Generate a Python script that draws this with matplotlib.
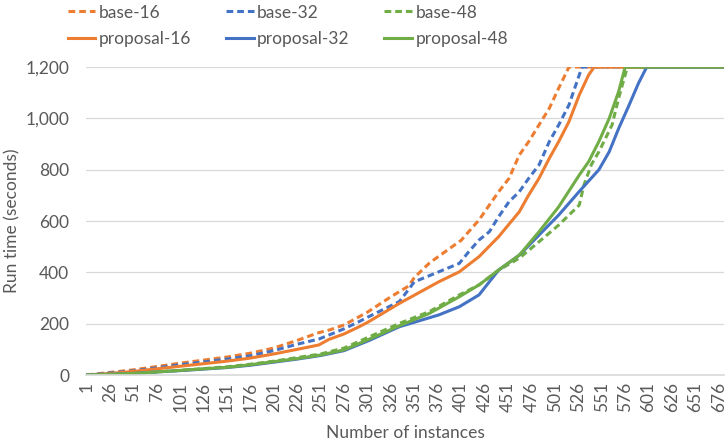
import numpy as np
import matplotlib.pyplot as plt
from matplotlib.ticker import FuncFormatter

plt.rcParams['font.family'] = ['Lato', 'DejaVu Sans']

n_inst = 681

# (instance, run time) pairs, sorted run times per config
base16_x = [1, 26, 51, 76, 101, 126, 151, 176, 201, 226, 249, 260, 276, 292, 301, 326, 345, 351, 367,
            376, 401, 420, 431, 441, 452, 463, 473, 484, 495, 505, 516, 681]
base16_y = [0, 10, 20, 33, 46, 58, 70, 85, 105, 135, 165, 175, 195, 227, 245, 305, 347, 380, 436,
            460, 525, 604, 662, 714, 766, 857, 909, 974, 1039, 1117, 1200, 1200]

base32_x = [1, 26, 51, 76, 101, 126, 151, 176, 201, 226, 249, 260, 276, 292, 301, 335, 351, 377, 399,
            409, 420, 431, 441, 452, 463, 473, 484, 495, 505, 516, 527, 530, 681]
base32_y = [0, 8, 16, 28, 40, 51, 62, 75, 95, 120, 140, 156, 180, 208, 225, 286, 363, 402, 435,
            480, 526, 558, 617, 675, 714, 766, 818, 909, 974, 1052, 1169, 1200, 1200]

base48_x = [1, 26, 51, 76, 101, 126, 151, 176, 201, 226, 251, 276, 303, 335, 367, 399, 420, 441,
            463, 484, 505, 527, 532, 540, 548, 562, 569, 577, 579, 681]
base48_y = [0, 3, 6, 12, 18, 25, 32, 42, 54, 68, 82, 105, 149, 201, 247, 312, 351, 409,
            455, 519, 584, 662, 740, 820, 870, 974, 1078, 1182, 1200, 1200]

prop16_x = [1, 26, 51, 76, 101, 126, 151, 176, 201, 226, 249, 260, 276, 292, 301, 335, 377, 399,
            420, 441, 463, 473, 484, 495, 505, 516, 527, 537, 543, 681]
prop16_y = [0, 6, 14, 24, 34, 44, 54, 66, 82, 100, 117, 139, 160, 188, 205, 279, 363, 402,
            461, 539, 636, 701, 766, 844, 909, 987, 1091, 1169, 1200, 1200]

prop32_x = [1, 26, 51, 76, 101, 126, 151, 176, 201, 226, 251, 276, 303, 335, 377, 399, 420, 431,
            441, 463, 484, 505, 527, 548, 559, 569, 580, 590, 599, 681]
prop32_y = [0, 3, 6, 12, 17, 23, 29, 38, 50, 62, 76, 95, 135, 188, 234, 266, 312, 363,
            409, 467, 545, 623, 715, 800, 870, 960, 1050, 1135, 1200, 1200]

prop48_x = [1, 26, 51, 76, 101, 126, 151, 176, 201, 226, 251, 276, 303, 335, 367, 399, 420, 441,
            463, 484, 505, 527, 537, 548, 559, 569, 576, 681]
prop48_y = [0, 3, 6, 12, 18, 24, 30, 40, 52, 64, 78, 98, 140, 192, 240, 305, 351, 409,
            467, 558, 655, 779, 831, 910, 1000, 1104, 1200, 1200]

orange = "#ED7D31"
blue = "#4472C4"
green = "#70AD47"
grey = "#595959"
dash = (0, (2.2, 1.3))

fig = plt.figure(figsize=(7.26, 4.44), dpi=100)
ax = fig.add_axes([86 / 726, 1 - 375 / 444, (724 - 86) / 726, (375 - 67) / 444])

lines = {}
lines["base-16"], = ax.plot(base16_x, base16_y, color=orange, ls=dash, lw=2.2)
lines["base-32"], = ax.plot(base32_x, base32_y, color=blue, ls=dash, lw=2.2)
lines["base-48"], = ax.plot(base48_x, base48_y, color=green, ls=dash, lw=2.2)
lines["proposal-16"], = ax.plot(prop16_x, prop16_y, color=orange, lw=2.2)
lines["proposal-32"], = ax.plot(prop32_x, prop32_y, color=blue, lw=2.2)
lines["proposal-48"], = ax.plot(prop48_x, prop48_y, color=green, lw=2.2)

ax.set_xlim(0.5, n_inst + 0.5)
ax.set_ylim(0, 1200)
ax.set_yticks(np.arange(0, 1201, 200))
ax.yaxis.set_major_formatter(FuncFormatter(lambda v, p: f"{int(v):,}"))
ax.set_xticks(np.arange(1, 677, 25))
ax.tick_params(axis='x', labelrotation=90, length=0, labelsize=12.5, colors=grey, pad=5)
ax.tick_params(axis='y', length=0, labelsize=12.5, colors=grey, pad=12)
ax.grid(axis='y', color="#D9D9D9", lw=0.9)
ax.set_axisbelow(True)
for s in ["top", "right", "left"]:
    ax.spines[s].set_visible(False)
ax.spines["bottom"].set_color("#D9D9D9")
ax.spines["bottom"].set_linewidth(1.2)

ax.set_xlabel("Number of instances", fontsize=12.5, color=grey, labelpad=9)
ax.set_ylabel("Run time (seconds)", fontsize=12.5, color=grey)
ax.yaxis.set_label_coords(-0.102, 0.5)

order = ["base-16", "proposal-16", "base-32", "proposal-32", "base-48", "proposal-48"]
fig.legend([lines[k] for k in order], order, loc="upper left", bbox_to_anchor=(52 / 726, 1.025),
           ncol=3, frameon=False, fontsize=12.5, handlelength=1.6, handletextpad=0.2,
           columnspacing=2.0, labelcolor=grey, labelspacing=0.6)

plt.savefig("out.png", dpi=100)
